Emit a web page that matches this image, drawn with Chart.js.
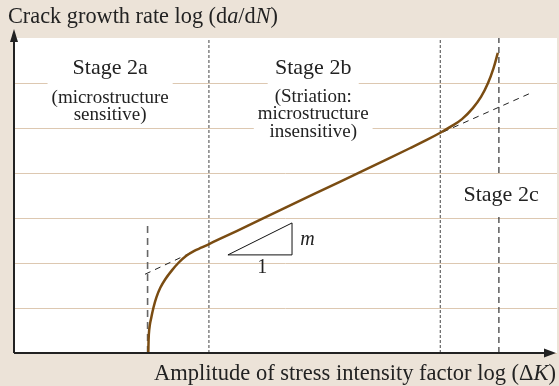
<!DOCTYPE html>
<html>
<head>
<meta charset="utf-8">
<script src="https://cdn.jsdelivr.net/npm/chart.js@4"></script>
<style>
  html, body { margin: 0; padding: 0; background: #ece3d8; }
  canvas { display: block; }
</style>
</head>
<body>
<canvas id="chart" width="559" height="386"></canvas>
<script>
// crack growth curve (x = log dK, y = log da/dN, arbitrary units)
const curveX = [24.73, 24.83, 25.01, 25.29, 25.65, 26.21, 26.94, 27.86, 28.97, 30.26, 31.73, 33.2, 34.6, 35.91, 37.8, 41, 45, 55, 65, 72.9, 76, 78.5, 80.5, 82.5, 84.5, 86, 87.3, 88.3, 89.1];
const curveY = [0, 0.41, 0.62, 0.79, 0.99, 1.23, 1.45, 1.64, 1.82, 2.0, 2.16, 2.27, 2.345, 2.42, 2.53, 2.71, 2.94, 3.52, 4.09, 4.55, 4.735, 4.895, 5.035, 5.197, 5.443, 5.69, 6.0, 6.326, 6.668];

// Paris law extensions
const tangentLowX = [24.13, 33.33];
const tangentLowY = [1.75, 2.27];
const tangentHighX = [79.0, 95.6];
const tangentHighY = [4.91, 5.8];

// stage borders
const borderX = [35.9, 78.5];
const finalX = 89.3;
const thresholdX = 24.6;
const thresholdTop = 2.84;

// slope triangle
const triX = [39.4, 51.2, 51.2, 39.4];
const triY = [2.18, 2.18, 2.89, 2.18];

const stageNames = ['Stage 2a', 'Stage 2b', 'Stage 2c'];
const stageNotes = [['(microstructure', 'sensitive)'], ['(Striation:', 'microstructure', 'insensitive)'], []];

const SERIF = '"Liberation Serif", "Times New Roman", serif';
const pts = (xs, ys) => xs.map((x, i) => ({ x: x, y: ys[i] }));

const datasets = [
  { data: pts(curveX, curveY), borderColor: '#7a4c12', borderWidth: 2.5, tension: 0.4 },
  { data: pts(tangentLowX, tangentLowY), borderColor: '#222', borderWidth: 1, borderDash: [6, 5] },
  { data: pts(tangentHighX, tangentHighY), borderColor: '#222', borderWidth: 1, borderDash: [6, 5] },
  { data: pts([thresholdX, thresholdX], [0, thresholdTop]), borderColor: '#666', borderWidth: 1.6, borderDash: [7, 5] },
  { data: pts([finalX, finalX], [0, 7]), borderColor: '#333', borderWidth: 1.2, borderDash: [6, 4] },
  { data: pts(triX, triY), borderColor: '#111', borderWidth: 1 }
];
borderX.forEach(x => {
  datasets.push({ data: pts([x, x], [0, 7]), borderColor: '#444', borderWidth: 1, borderDash: [3, 2] });
});

function drawRuns(ctx, runs, x, y, size) {
  runs.forEach(r => {
    ctx.font = (r[1] ? 'italic ' : '') + size + 'px ' + SERIF;
    ctx.fillText(r[0], x, y);
    x += ctx.measureText(r[0]).width;
  });
}
function runsWidth(ctx, runs, size) {
  let w = 0;
  runs.forEach(r => {
    ctx.font = (r[1] ? 'italic ' : '') + size + 'px ' + SERIF;
    w += ctx.measureText(r[0]).width;
  });
  return w;
}

const overlay = {
  id: 'overlay',
  beforeDraw(chart) {
    const ctx = chart.ctx, a = chart.chartArea;
    ctx.save();
    ctx.fillStyle = '#ece3d8';
    ctx.fillRect(0, 0, chart.width, chart.height);
    ctx.fillStyle = '#fff';
    ctx.fillRect(a.left, a.top, a.right - a.left, a.bottom - a.top);
    ctx.restore();
  },
  afterDatasetsDraw(chart) {
    const ctx = chart.ctx;
    const sx = chart.scales.x, sy = chart.scales.y;
    // label anchors: x, y per line, mask [pad, up, down] per line
    const spots = [
      { x: 17.7, ys: [6.33, 5.67, 5.28], masks: [null, [4, 17, 8], null] },
      { x: 55.1, ys: [6.33, 5.69, 5.3, 4.91], masks: [null, [7, 16, 8], [4, 8, 15], null] },
      { x: 89.7, ys: [3.51], masks: [[6, 19, 20]] }
    ];
    ctx.save();
    ctx.textAlign = 'center';
    ctx.textBaseline = 'middle';
    spots.forEach((s, i) => {
      const lines = [stageNames[i]].concat(stageNotes[i]);
      const cx = sx.getPixelForValue(s.x);
      lines.forEach((t, j) => {
        const m = s.masks[j];
        if (!m) return;
        ctx.font = (j === 0 ? 22 : 19) + 'px ' + SERIF;
        const cy = sy.getPixelForValue(s.ys[j]);
        const w = ctx.measureText(t).width;
        ctx.fillStyle = '#fff';
        ctx.fillRect(cx - w / 2 - m[0], cy - m[1], w + 2 * m[0], m[1] + m[2]);
      });
      lines.forEach((t, j) => {
        ctx.font = (j === 0 ? 22 : 19) + 'px ' + SERIF;
        ctx.fillStyle = '#222';
        ctx.fillText(t, cx, sy.getPixelForValue(s.ys[j]));
      });
    });
    // slope triangle labels
    ctx.fillStyle = '#222';
    ctx.font = 'italic 20px ' + SERIF;
    ctx.textAlign = 'left';
    ctx.fillText('m', sx.getPixelForValue(52.7), sy.getPixelForValue(2.51));
    ctx.font = '20px ' + SERIF;
    ctx.textAlign = 'center';
    ctx.fillText('1', sx.getPixelForValue(45.7), sy.getPixelForValue(1.89));
    ctx.restore();
  },
  afterDraw(chart) {
    const ctx = chart.ctx, a = chart.chartArea;
    const ox = a.left, oy = chart.scales.y.getPixelForValue(0);
    ctx.save();
    ctx.strokeStyle = '#222';
    ctx.fillStyle = '#222';
    ctx.lineWidth = 2;
    ctx.beginPath();
    ctx.moveTo(ox, oy);
    ctx.lineTo(ox, a.top - 2);
    ctx.moveTo(ox, oy);
    ctx.lineTo(a.right - 10, oy);
    ctx.stroke();
    // arrow heads
    ctx.beginPath();
    ctx.moveTo(ox, a.top - 9);
    ctx.lineTo(ox - 4, a.top + 4);
    ctx.lineTo(ox + 4, a.top + 4);
    ctx.closePath();
    ctx.fill();
    ctx.beginPath();
    ctx.moveTo(a.right - 1, oy);
    ctx.lineTo(a.right - 13, oy - 4.5);
    ctx.lineTo(a.right - 13, oy + 4.5);
    ctx.closePath();
    ctx.fill();
    // axis titles
    ctx.textAlign = 'left';
    ctx.textBaseline = 'middle';
    drawRuns(ctx, [['Crack growth rate log (d'], ['a', 1], ['/d'], ['N', 1], [')']], 8, 17, 22.3);
    const xr = [['Amplitude of stress intensity factor log (\u0394'], ['K', 1], [')']];
    drawRuns(ctx, xr, 556 - runsWidth(ctx, xr, 22.5), 374, 22.5);
    ctx.restore();
  }
};

new Chart(document.getElementById('chart'), {
  type: 'line',
  data: { datasets: datasets },
  options: {
    responsive: false,
    animation: false,
    events: [],
    layout: { padding: { left: 14, top: 38, right: 2, bottom: 33 } },
    elements: { point: { radius: 0 }, line: { fill: false } },
    plugins: { legend: { display: false }, tooltip: { enabled: false } },
    scales: {
      x: { type: 'linear', min: 0, max: 100, display: false },
      y: {
        type: 'linear', min: 0, max: 7,
        ticks: { display: false, stepSize: 1 },
        border: { display: false },
        grid: {
          color: c => (c.tick && c.tick.value === 7) ? 'rgba(0,0,0,0)' : '#ddc8b1',
          lineWidth: 1,
          drawTicks: false
        }
      }
    }
  },
  plugins: [overlay]
});
</script>
</body>
</html>
